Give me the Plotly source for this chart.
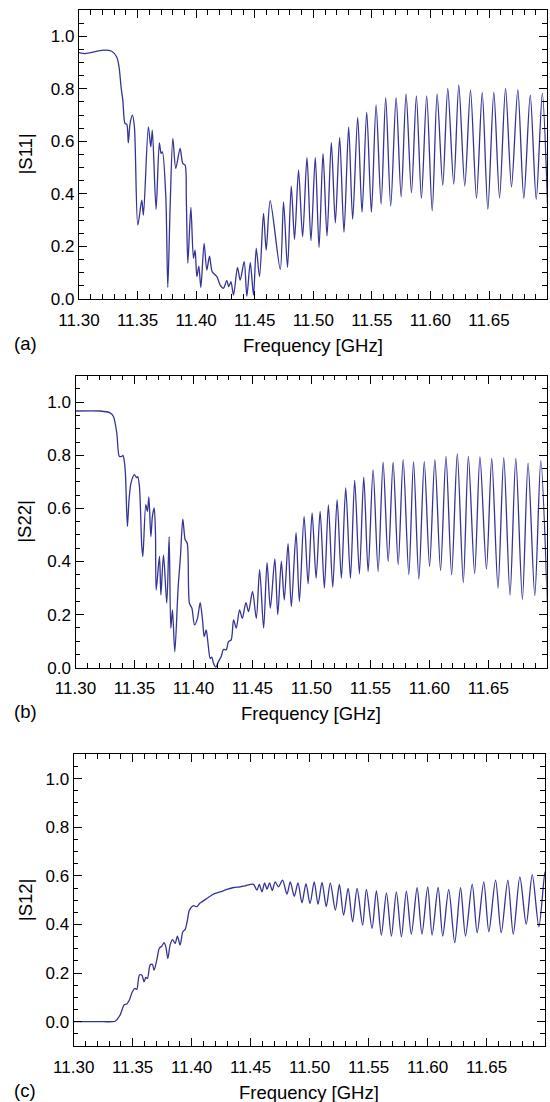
import plotly.graph_objects as go

# ---------------- data ----------------
f_s11 = [11.3000, 11.3051, 11.3208, 11.3279, 11.3322, 11.3342, 11.3359, 11.3374, 11.3393, 11.3408,
         11.3421, 11.3436, 11.3456, 11.3473, 11.3502, 11.3536, 11.3550, 11.3592, 11.3613, 11.3626,
         11.3658, 11.3686, 11.3701, 11.3712, 11.3741, 11.3758, 11.3778, 11.3801, 11.3826, 11.3863,
         11.3886, 11.3906, 11.3916, 11.3929, 11.3955, 11.3977, 11.3991, 11.4006, 11.4023, 11.4040,
         11.4068, 11.4091, 11.4114, 11.4137, 11.4177, 11.4205, 11.4233, 11.4262, 11.4279, 11.4297,
         11.4319, 11.4353, 11.4376, 11.4410, 11.4433, 11.4462, 11.4490, 11.4513, 11.4541, 11.4575,
         11.4598, 11.4632, 11.4718, 11.4746, 11.4780, 11.4812, 11.4840, 11.4874, 11.4909, 11.4946,
         11.4980, 11.5017, 11.5049, 11.5083, 11.5117, 11.5154, 11.5188, 11.5225, 11.5262, 11.5302,
         11.5336, 11.5379, 11.5416, 11.5456, 11.5496, 11.5536, 11.5579, 11.5618, 11.5661, 11.5707,
         11.5750, 11.5792, 11.5838, 11.5880, 11.5923, 11.5968, 11.6015, 11.6057, 11.6105, 11.6148,
         11.6199, 11.6242, 11.6293, 11.6342, 11.6393, 11.6442, 11.6490, 11.6541, 11.6590, 11.6641,
         11.6692, 11.6746, 11.6797, 11.6852, 11.6903, 11.6955, 11.7000]
s11 = [0.938, 0.934, 0.947, 0.943, 0.921, 0.883, 0.807, 0.757, 0.668, 0.665,
       0.594, 0.668, 0.700, 0.655, 0.281, 0.376, 0.319, 0.655, 0.579, 0.643,
       0.341, 0.594, 0.554, 0.560, 0.389, 0.044, 0.351, 0.611, 0.497, 0.573,
       0.516, 0.509, 0.383, 0.136, 0.349, 0.155, 0.186, 0.085, 0.125, 0.044,
       0.212, 0.110, 0.163, 0.104, 0.085, 0.053, 0.041, 0.070, 0.047, 0.066,
       0.015, 0.120, 0.072, 0.142, 0.011, 0.138, 0.015, 0.193, 0.085, 0.326,
       0.186, 0.374, 0.113, 0.370, 0.120, 0.430, 0.227, 0.490, 0.237, 0.539,
       0.222, 0.539, 0.196, 0.554, 0.240, 0.596, 0.290, 0.615, 0.254, 0.655,
       0.303, 0.691, 0.330, 0.711, 0.330, 0.739, 0.361, 0.766, 0.354, 0.766,
       0.389, 0.781, 0.404, 0.773, 0.383, 0.773, 0.336, 0.781, 0.433, 0.802,
       0.437, 0.815, 0.430, 0.795, 0.383, 0.786, 0.341, 0.787, 0.385, 0.802,
       0.427, 0.797, 0.383, 0.776, 0.379, 0.783, 0.350]

f_s22 = [11.3000, 11.3208, 11.3293, 11.3321, 11.3350, 11.3372, 11.3392, 11.3403, 11.3412, 11.3423,
         11.3440, 11.3454, 11.3471, 11.3499, 11.3520, 11.3528, 11.3542, 11.3562, 11.3571, 11.3596,
         11.3610, 11.3622, 11.3639, 11.3652, 11.3667, 11.3678, 11.3684, 11.3712, 11.3724, 11.3746,
         11.3774, 11.3794, 11.3808, 11.3822, 11.3842, 11.3870, 11.3890, 11.3910, 11.3930, 11.3947,
         11.3966, 11.3987, 11.4009, 11.4034, 11.4057, 11.4077, 11.4091, 11.4108, 11.4125, 11.4142,
         11.4156, 11.4170, 11.4190, 11.4212, 11.4235, 11.4255, 11.4278, 11.4297, 11.4320, 11.4340,
         11.4363, 11.4391, 11.4414, 11.4445, 11.4467, 11.4501, 11.4533, 11.4561, 11.4595, 11.4624,
         11.4652, 11.4690, 11.4715, 11.4745, 11.4770, 11.4802, 11.4830, 11.4870, 11.4898, 11.4938,
         11.4972, 11.5006, 11.5040, 11.5074, 11.5110, 11.5144, 11.5181, 11.5218, 11.5254, 11.5291,
         11.5331, 11.5367, 11.5407, 11.5444, 11.5481, 11.5523, 11.5566, 11.5608, 11.5651, 11.5693,
         11.5736, 11.5778, 11.5826, 11.5866, 11.5911, 11.5957, 11.6002, 11.6047, 11.6095, 11.6141,
         11.6189, 11.6237, 11.6288, 11.6331, 11.6384, 11.6429, 11.6484, 11.6529, 11.6582, 11.6631,
         11.6684, 11.6733, 11.6789, 11.6837, 11.6894, 11.6945, 11.7000]
s22 = [0.967, 0.967, 0.960, 0.947, 0.884, 0.796, 0.796, 0.800, 0.784, 0.734,
       0.532, 0.633, 0.696, 0.727, 0.715, 0.720, 0.683, 0.457, 0.419, 0.614,
       0.589, 0.643, 0.494, 0.570, 0.602, 0.507, 0.293, 0.419, 0.274, 0.425,
       0.243, 0.494, 0.149, 0.218, 0.060, 0.300, 0.420, 0.560, 0.482, 0.470,
       0.243, 0.224, 0.161, 0.186, 0.245, 0.180, 0.117, 0.142, 0.086, 0.035,
       0.040, 0.017, 0.002, 0.023, 0.042, 0.069, 0.067, 0.098, 0.105, 0.180,
       0.149, 0.218, 0.186, 0.245, 0.211, 0.287, 0.186, 0.369, 0.149, 0.396,
       0.224, 0.410, 0.200, 0.400, 0.255, 0.467, 0.230, 0.509, 0.249, 0.570,
       0.316, 0.583, 0.337, 0.589, 0.300, 0.613, 0.303, 0.633, 0.337, 0.677,
       0.337, 0.706, 0.354, 0.718, 0.362, 0.746, 0.362, 0.774, 0.400, 0.774,
       0.388, 0.784, 0.350, 0.776, 0.334, 0.776, 0.381, 0.784, 0.366, 0.796,
       0.350, 0.806, 0.321, 0.796, 0.354, 0.794, 0.371, 0.788, 0.300, 0.791,
       0.274, 0.788, 0.258, 0.771, 0.272, 0.780, 0.250]

f_s12 = [11.3000, 11.3250, 11.3330, 11.3351, 11.3393, 11.3427, 11.3450, 11.3472, 11.3497, 11.3520,
         11.3535, 11.3557, 11.3577, 11.3597, 11.3611, 11.3625, 11.3648, 11.3667, 11.3681, 11.3704,
         11.3726, 11.3747, 11.3766, 11.3781, 11.3798, 11.3817, 11.3837, 11.3860, 11.3879, 11.3902,
         11.3925, 11.3945, 11.3964, 11.3981, 11.4015, 11.4044, 11.4066, 11.4086, 11.4129, 11.4185,
         11.4242, 11.4299, 11.4355, 11.4411, 11.4454, 11.4524, 11.4553, 11.4573, 11.4596, 11.4618,
         11.4639, 11.4660, 11.4683, 11.4708, 11.4736, 11.4770, 11.4808, 11.4836, 11.4870, 11.4901,
         11.4935, 11.4969, 11.5003, 11.5039, 11.5071, 11.5105, 11.5141, 11.5175, 11.5218, 11.5252,
         11.5288, 11.5326, 11.5364, 11.5402, 11.5449, 11.5481, 11.5529, 11.5566, 11.5608, 11.5651,
         11.5693, 11.5735, 11.5778, 11.5820, 11.5862, 11.5911, 11.5952, 11.6001, 11.6038, 11.6089,
         11.6128, 11.6179, 11.6230, 11.6279, 11.6321, 11.6378, 11.6420, 11.6476, 11.6519, 11.6576,
         11.6624, 11.6680, 11.6726, 11.6782, 11.6836, 11.6887, 11.6943, 11.6994, 11.7000]
s12 = [0.000, 0.000, 0.000, 0.002, 0.027, 0.069, 0.073, 0.089, 0.123, 0.137,
       0.133, 0.192, 0.192, 0.164, 0.182, 0.178, 0.233, 0.236, 0.212, 0.253,
       0.302, 0.311, 0.325, 0.308, 0.260, 0.315, 0.338, 0.322, 0.352, 0.315,
       0.370, 0.380, 0.418, 0.459, 0.477, 0.473, 0.486, 0.493, 0.507, 0.525,
       0.534, 0.544, 0.552, 0.555, 0.559, 0.565, 0.541, 0.565, 0.534, 0.571,
       0.545, 0.571, 0.540, 0.575, 0.555, 0.582, 0.525, 0.575, 0.516, 0.571,
       0.489, 0.568, 0.486, 0.575, 0.483, 0.573, 0.473, 0.571, 0.459, 0.565,
       0.438, 0.548, 0.411, 0.548, 0.397, 0.544, 0.384, 0.538, 0.356, 0.530,
       0.352, 0.534, 0.349, 0.537, 0.360, 0.551, 0.360, 0.555, 0.356, 0.552,
       0.352, 0.544, 0.325, 0.551, 0.352, 0.566, 0.366, 0.575, 0.370, 0.582,
       0.366, 0.582, 0.360, 0.596, 0.401, 0.605, 0.390, 0.616, 0.600]

x_ticks = [11.30, 11.35, 11.40, 11.45, 11.50, 11.55, 11.60, 11.65]
x_tick_text = ["11.30", "11.35", "11.40", "11.45", "11.50", "11.55", "11.60", "11.65"]
y_ticks = [0.0, 0.2, 0.4, 0.6, 0.8, 1.0]
y_tick_text = ["0.0", "0.2", "0.4", "0.6", "0.8", "1.0"]
panel_labels = ["(a)", "(b)", "(c)"]
y_titles = ["|S11|", "|S22|", "|S12|"]
x_title = "Frequency [GHz]"

# ---------------- figure ----------------
W, H = 550, 1102
LINE = "rgb(52,52,150)"
FONT = "Liberation Sans, Arial, Helvetica, sans-serif"

# plot areas in pixels: (left, right, top, bottom)
boxes = [(79, 547, 10, 299), (75.5, 546.7, 375.7, 667.7), (73.7, 545, 754.3, 1046)]
yranges = [[0, 1.1], [0, 1.1], [-0.1, 1.1]]
series = [(f_s11, s11), (f_s22, s22), (f_s12, s12)]

fig = go.Figure()
for i, ((fx, fy), (l, r, t, b)) in enumerate(zip(series, boxes)):
    n = "" if i == 0 else str(i + 1)
    fig.add_trace(go.Scatter(x=fx, y=fy, mode="lines", xaxis="x" + n, yaxis="y" + n,
                             line=dict(color=LINE, width=1.3, shape="spline", smoothing=0.8),
                             showlegend=False, hoverinfo="skip"))
    common = dict(showline=True, linecolor="black", linewidth=1.2, mirror="ticks",
                  ticks="inside", ticklen=8, tickwidth=1.1, tickcolor="black",
                  showgrid=False, zeroline=False, automargin=False,
                  tickfont=dict(family=FONT, size=17, color="black"))
    xa = dict(common, domain=[l / W, r / W], range=[11.30, 11.6995],
              tickmode="array", tickvals=x_ticks, ticktext=x_tick_text,
              anchor="y" + n, ticklabelstandoff=5,
              minor=dict(tickmode="linear", tick0=11.30, dtick=0.01, ticklen=4.5,
                         tickwidth=1, tickcolor="black", ticks="inside", showgrid=False))
    ya = dict(common, domain=[1 - b / H, 1 - t / H], range=yranges[i],
              tickmode="array", tickvals=y_ticks, ticktext=y_tick_text,
              anchor="x" + n,
              minor=dict(tickmode="linear", tick0=0, dtick=0.05, ticklen=4.5,
                         tickwidth=1, tickcolor="black", ticks="inside", showgrid=False))
    fig.update_layout(**{"xaxis" + n: xa, "yaxis" + n: ya})

    cx = (l + r) / 2
    fig.add_annotation(x=cx / W, y=1 - (b + 46) / H, xref="paper", yref="paper",
                       text=x_title, showarrow=False, xanchor="center", yanchor="middle",
                       font=dict(family=FONT, size=18.5, color="black"))
    fig.add_annotation(x=25 / W, y=1 - (b + 44) / H, xref="paper", yref="paper",
                       text=panel_labels[i], showarrow=False, xanchor="center", yanchor="middle",
                       font=dict(family=FONT, size=18.5, color="black"))
    fig.add_annotation(x=25 / W, y=1 - ((t + b) / 2) / H, xref="paper", yref="paper",
                       text=y_titles[i], showarrow=False, textangle=-90,
                       xanchor="center", yanchor="middle",
                       font=dict(family=FONT, size=18.5, color="black"))

fig.update_layout(width=W, height=H, margin=dict(l=0, r=0, t=0, b=0, autoexpand=False),
                  paper_bgcolor="white", plot_bgcolor="white",
                  font=dict(family=FONT, color="black"))

fig.write_html("out.html", config={"displayModeBar": False},
               post_script="document.body.style.margin='0';document.body.style.overflow='hidden';")
